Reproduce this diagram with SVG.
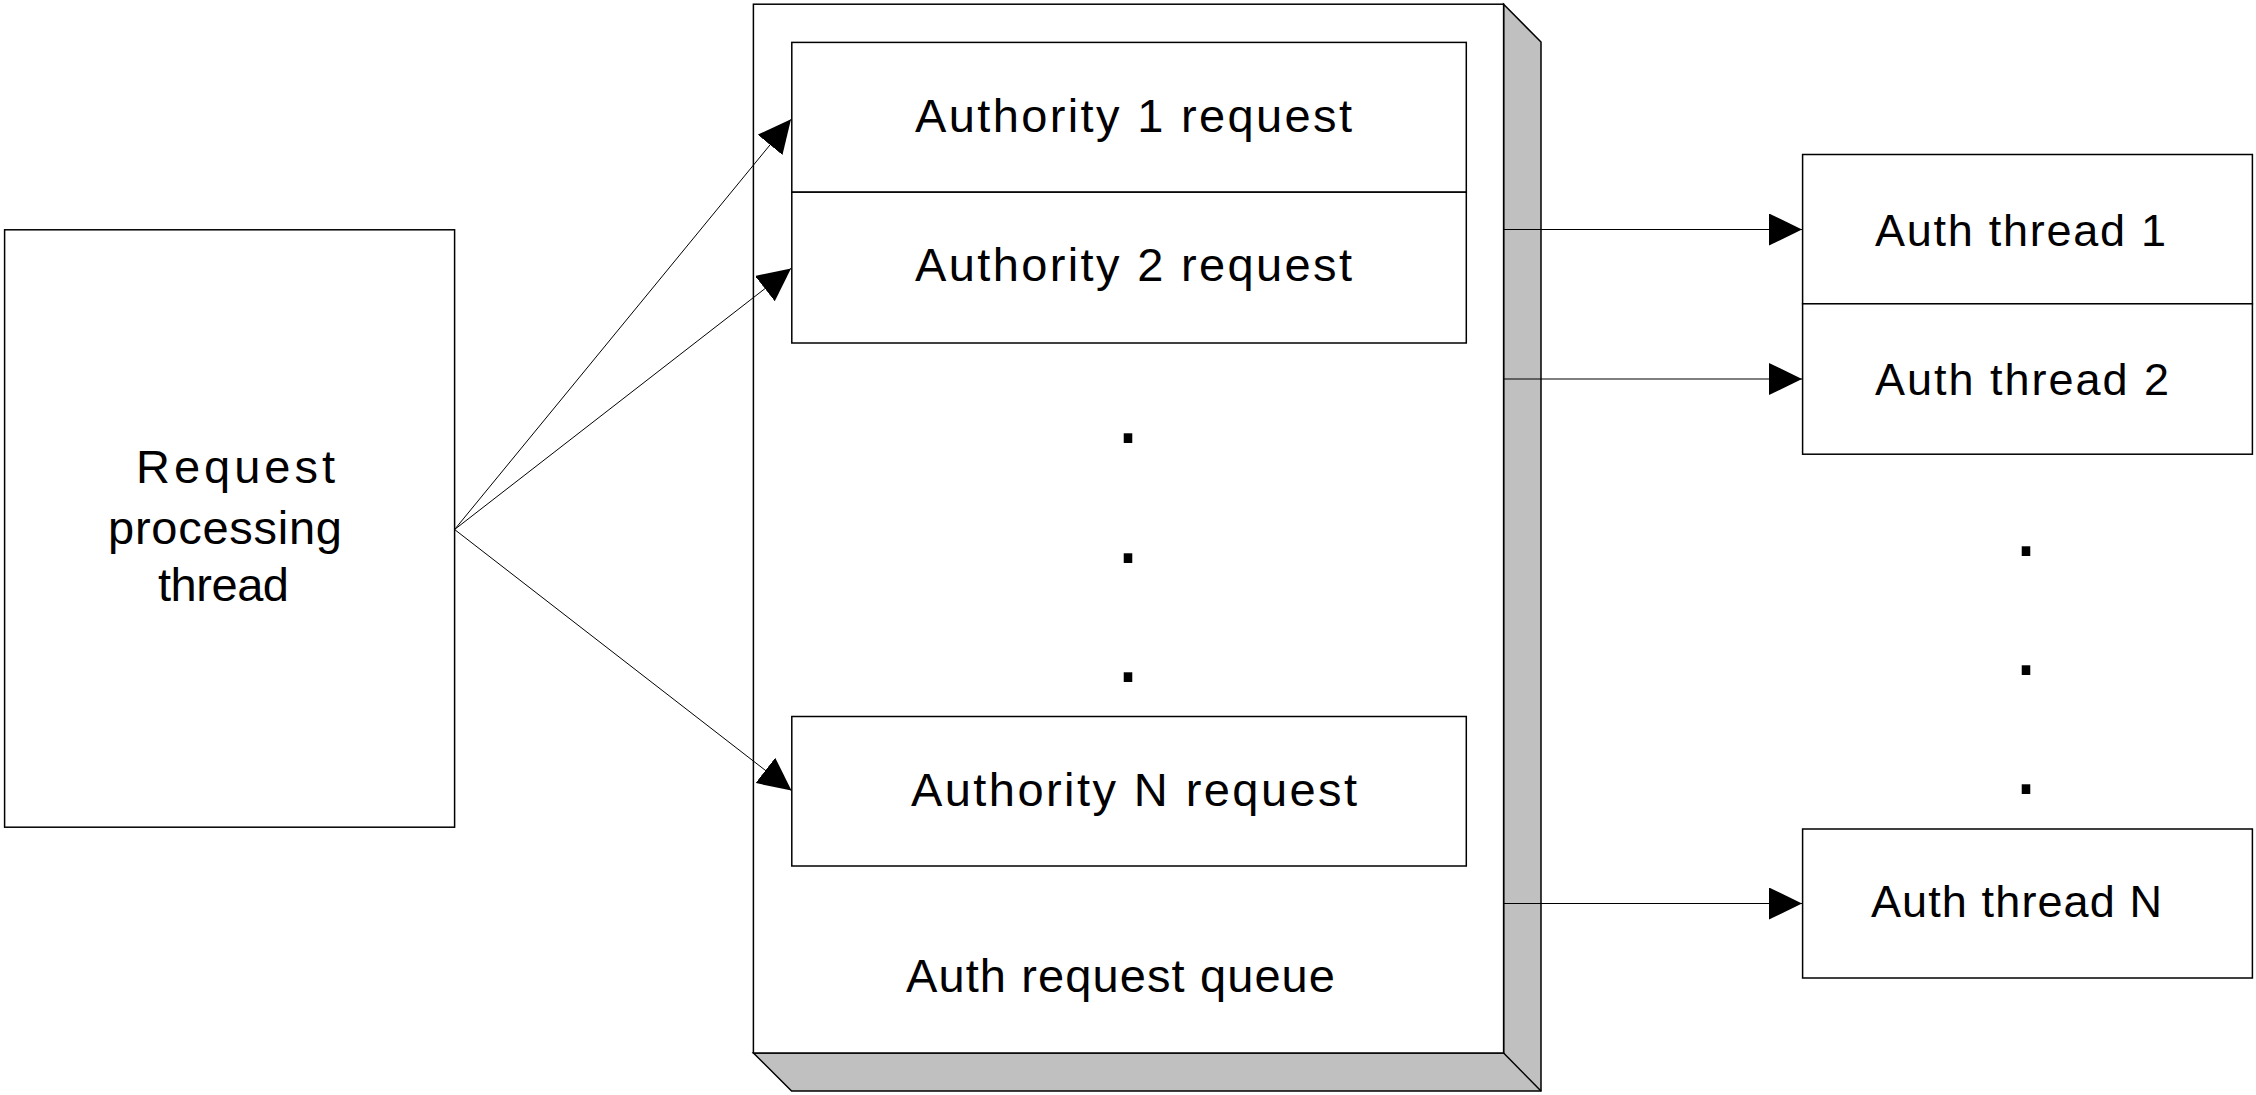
<svg xmlns="http://www.w3.org/2000/svg" width="2256" height="1095" viewBox="0 0 2256 1095">
<style>
.box{fill:#fff;stroke:#000;stroke-width:1.5}
.shadow{fill:#c0c0c0;stroke:#000;stroke-width:1.5;stroke-linejoin:miter}
.conn{stroke:#000;stroke-width:1;fill:none}
.lbl{font-family:"Liberation Sans",Arial,sans-serif;font-size:47px;fill:#000}
.th{font-size:45px}
.dot{font-family:"Liberation Sans",Arial,sans-serif;font-size:90px;fill:#000;text-anchor:middle}
</style>
<defs>
<marker id="arr" markerUnits="userSpaceOnUse" markerWidth="34" markerHeight="32" refX="33" refY="16" orient="auto" viewBox="0 0 34 32">
<path d="M0,0 L33,16 L0,32 z" fill="#000"/>
</marker>
</defs>
<rect width="2256" height="1095" fill="#fff"/>

<g id="request-processing-thread">
<rect class="box" x="4.6" y="229.8" width="450" height="597.4"/>
<text class="lbl" x="136" y="482.7" textLength="199" lengthAdjust="spacing">Request</text>
<text class="lbl" x="108" y="543.5" textLength="234" lengthAdjust="spacing">processing</text>
<text class="lbl" x="158" y="601" textLength="131" lengthAdjust="spacing">thread</text>
</g>

<g id="auth-request-queue">
<polygon class="shadow" points="1503.6,4.2 1541,42 1541,1091 791.6,1091 753.4,1053 1503.6,1053"/>
<line x1="1503.6" y1="1053" x2="1541" y2="1091" stroke="#000" stroke-width="1.5"/>
<rect class="box" x="753.4" y="4.2" width="750.2" height="1048.8"/>
<text class="lbl" x="906" y="992.3" textLength="429" lengthAdjust="spacing">Auth request queue</text>
<text class="dot" x="1128" y="443">.</text>
<text class="dot" x="1128" y="563">.</text>
<text class="dot" x="1128" y="682">.</text>
</g>

<g id="authority-1-request">
<rect class="box" x="791.8" y="42.4" width="674.5" height="149.8"/>
<text class="lbl" x="915" y="132.3" textLength="437" lengthAdjust="spacing">Authority 1 request</text>
</g>
<g id="authority-2-request">
<rect class="box" x="791.8" y="192.2" width="674.5" height="150.8"/>
<text class="lbl" x="915" y="281" textLength="437" lengthAdjust="spacing">Authority 2 request</text>
</g>
<g id="authority-n-request">
<rect class="box" x="791.8" y="716.5" width="674.5" height="149.5"/>
<text class="lbl" x="911" y="805.5" textLength="446" lengthAdjust="spacing">Authority N request</text>
</g>

<g id="auth-thread-1">
<rect class="box" x="1802.6" y="154.5" width="449.8" height="149.3"/>
<text class="lbl th" x="1875" y="245.7" textLength="291" lengthAdjust="spacing">Auth thread 1</text>
</g>
<g id="auth-thread-2">
<rect class="box" x="1802.6" y="303.8" width="449.8" height="150.4"/>
<text class="lbl th" x="1875" y="395" textLength="294" lengthAdjust="spacing">Auth thread 2</text>
</g>
<g id="thread-dots">
<text class="dot" x="2026" y="556">.</text>
<text class="dot" x="2026" y="675">.</text>
<text class="dot" x="2026" y="794">.</text>
</g>
<g id="auth-thread-n">
<rect class="box" x="1802.6" y="829" width="449.8" height="149"/>
<text class="lbl th" x="1871" y="917" textLength="291" lengthAdjust="spacing">Auth thread N</text>
</g>

<g id="connectors">
<line class="conn" x1="454.6" y1="529.5" x2="791" y2="119.3" marker-end="url(#arr)"/>
<line class="conn" x1="454.6" y1="529.5" x2="791" y2="268.4" marker-end="url(#arr)"/>
<line class="conn" x1="454.6" y1="529.5" x2="791.5" y2="790.6" marker-end="url(#arr)"/>
<line class="conn" x1="1503.6" y1="229.5" x2="1802" y2="229.5" marker-end="url(#arr)"/>
<line class="conn" x1="1503.6" y1="379" x2="1802" y2="379" marker-end="url(#arr)"/>
<line class="conn" x1="1503.6" y1="903.5" x2="1802" y2="903.5" marker-end="url(#arr)"/>
</g>
</svg>
